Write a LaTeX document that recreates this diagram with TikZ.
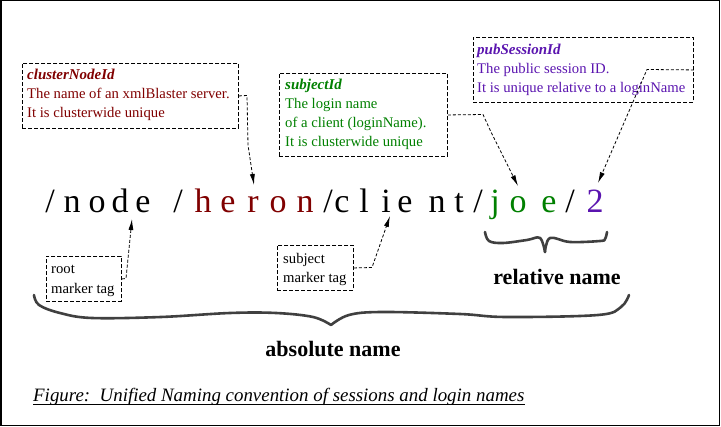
\documentclass[tikz,border=0pt]{standalone}
\usepackage{fontspec}
\setmainfont{Liberation Serif}
\usetikzlibrary{arrows.meta}
\definecolor{maroonc}{RGB}{128,0,0}
\definecolor{greenc}{RGB}{0,128,0}
\definecolor{purplec}{RGB}{90,20,175}
\definecolor{bracec}{RGB}{64,64,64}
\begin{document}
\begin{tikzpicture}[x=1pt,y=-1pt,
  letter/.style={anchor=base,inner sep=0pt,font=\fontsize{34}{34}\selectfont},
  infobox/.style={draw,dash pattern=on 4pt off 2pt,line width=0.9pt,anchor=north west,inner sep=0pt},
  txt/.style={anchor=base west,inner sep=0pt,font=\fontsize{14.7}{14.7}\selectfont},
  head/.style={anchor=base west,inner sep=0pt,font=\fontsize{15}{15}\selectfont\bfseries\itshape},
  conn/.style={dash pattern=on 3pt off 2pt,line width=0.8pt,-{Latex[length=11pt,width=5pt]}},
  bracepath/.style={line width=2.6pt,color=bracec,line cap=round,line join=round},
  biglabel/.style={anchor=base,inner sep=0pt,font=\fontsize{22}{22}\selectfont\bfseries}
]
\useasboundingbox (0,0) rectangle (721,427);
\draw[line width=1.5pt] (0.75,0.75) rectangle (719.5,425.5);

% main path letters
\node[letter] (s1) at (50,213) {/};
\node[letter] (n1) at (72,213) {n};
\node[letter] (o1) at (97,213) {o};
\node[letter] (d1) at (120,213) {d};
\node[letter] (e1) at (143,213) {e};
\node[letter] (s2) at (178,213) {/};
\node[letter,text=maroonc] (h2) at (203,213) {h};
\node[letter,text=maroonc] (e2) at (228,213) {e};
\node[letter,text=maroonc] (r2) at (253,213) {r};
\node[letter,text=maroonc] (o2) at (278,213) {o};
\node[letter,text=maroonc] (n2) at (305,213) {n};
\node[letter] (s3) at (328,213) {/};
\node[letter] (c3) at (342,213) {c};
\node[letter] (l3) at (364,213) {l};
\node[letter] (i3) at (386,213) {i};
\node[letter] (e3) at (405,213) {e};
\node[letter] (n3) at (437,213) {n};
\node[letter] (t3) at (459,213) {t};
\node[letter] (s4) at (478,213) {/};
\node[letter,text=greenc] (j4) at (495,213) {j};
\node[letter,text=greenc] (o4) at (518,213) {o};
\node[letter,text=greenc] (e4) at (549,213) {e};
\node[letter] (s5) at (570,213) {/};
\node[letter,text=purplec] (two) at (595,213) {2};

% clusterNodeId box
\node[infobox,minimum width=216pt,minimum height=65pt] (b1) at (22,63) {};
\node[head,text=maroonc] (b1h) at (27,80) {clusterNodeId};
\node[txt,text=maroonc] (b1a) at (27,99) {The name of an xmlBlaster server.};
\node[txt,text=maroonc] (b1b) at (27,118) {It is clusterwide unique};

% subjectId box
\node[infobox,minimum width=168pt,minimum height=83pt] (b2) at (279,73) {};
\node[head,text=greenc] (b2h) at (285,90) {subjectId};
\node[txt,text=greenc] (b2a) at (285,109) {The login name};
\node[txt,text=greenc] (b2b) at (285,128) {of a client (loginName).};
\node[txt,text=greenc] (b2c) at (285,147) {It is clusterwide unique};

% pubSessionId box
\node[infobox,minimum width=220pt,minimum height=65pt] (b3) at (473,37) {};
\node[head,text=purplec] (b3h) at (477,55) {pubSessionId};
\node[txt,text=purplec] (b3a) at (477,74) {The public session ID.};
\node[txt,text=purplec] (b3b) at (477,93) {It is unique relative to a loginName};

% root marker tag box
\node[infobox,minimum width=75pt,minimum height=45pt] (b4) at (46,256) {};
\node[txt] (b4a) at (51,274) {root};
\node[txt] (b4b) at (51,294) {marker tag};

% subject marker tag box
\node[infobox,minimum width=76pt,minimum height=45pt] (b5) at (277,245) {};
\node[txt] (b5a) at (283,264) {subject};
\node[txt] (b5b) at (283,283) {marker tag};

% arrow targets
\coordinate (t1) at (254,185);
\coordinate (t2) at (518,186);
\coordinate (t3) at (598,183);
\coordinate (t4) at (132,219);
\coordinate (t5) at (390,216);

\draw[conn] (b1.east) -- (247,95.5) -- (248,145) -- (t1);
\draw[conn] (b2.east) -- (483,114.5) -- (491,132) -- (t2);
\draw[conn] (b3.east) -- (647,69.5) -- (t3);
\draw[conn] (b4.east) -- (126,278.5) -- (t4);
\draw[conn] (b5.east) -- (372,267.5) -- (t5);

% small brace
\draw[bracepath] plot[smooth,tension=0.6] coordinates {(485,232) (489,241) (503,243) (527,240) (540,238) (545,252)};
\draw[bracepath] plot[smooth,tension=0.6] coordinates {(545,252) (550,238) (570,242) (600,241) (605,239) (607,232)};
\node[biglabel] (rel) at (557,285) {relative name};

% big brace
\draw[bracepath] plot[smooth,tension=0.6] coordinates {(34,295) (39,305) (60,313) (92,318) (161,317) (230,313) (276,313) (313,317) (331,325)};
\draw[bracepath] plot[smooth,tension=0.6] coordinates {(331,325) (349,315) (382,312) (460,314) (506,317) (598,315) (621,307) (629,295)};
\node[biglabel] (abs) at (333,357) {absolute name};

% caption
\node[anchor=base west,inner sep=0pt,font=\fontsize{18.9}{18.9}\selectfont\itshape] (cap) at (33,402) {Figure:\ \ Unified Naming convention of sessions and login names};
\draw[line width=0.9pt] ([yshift=-2pt]cap.base west) -- ([yshift=-2pt]cap.base east);
\end{tikzpicture}
\end{document}
